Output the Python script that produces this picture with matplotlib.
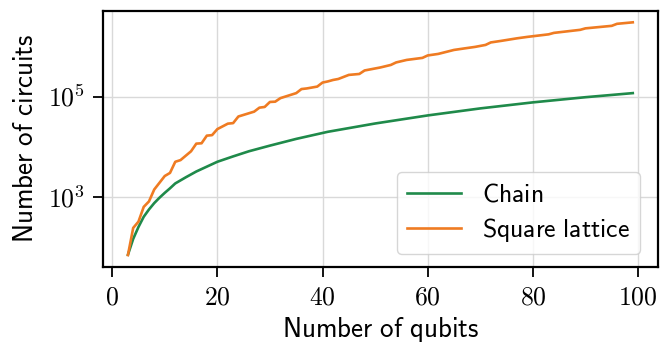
import numpy as np
import matplotlib
matplotlib.use("Agg")
import matplotlib.pyplot as plt

# number of circuits vs number of qubits
chain_qubits = [3, 4, 5, 6, 7, 8, 9, 10, 11, 12, 14, 16, 18, 20, 23, 26, 30, 35,
                41, 50, 60, 70, 80, 90, 99]
chain_circuits = [70, 145, 250, 400, 560, 750, 960, 1200, 1480, 1850, 2450, 3200,
                  4000, 5000, 6400, 8100, 10500, 14300, 19800, 29000, 42000, 58000,
                  76500, 97000, 117000]

square_qubits = [3, 4, 5, 6, 7, 8, 10, 11, 12, 13, 15, 16, 17, 18, 19, 20, 22, 23,
                 24, 27, 28, 29, 30, 31, 32, 35, 36, 37, 39, 40, 41, 42, 43, 45,
                 47, 48, 51, 53, 54, 56, 59, 60, 62, 65, 67, 69, 71, 72, 74, 77,
                 79, 83, 84, 89, 90, 95, 96, 99]
square_circuits = [69, 240, 320, 630, 810, 1400, 2600, 3000, 5000, 5400, 8100,
                   11500, 11700, 16600, 17000, 22400, 28800, 29500, 40000, 50000,
                   60000, 62000, 78000, 79000, 93000, 117000, 141000, 145000,
                   158000, 190000, 200000, 214000, 224000, 270000, 282000, 331000,
                   380000, 427000, 479000, 537000, 590000, 660000, 708000, 850000,
                   912000, 977000, 1070000, 1200000, 1290000, 1450000, 1550000,
                   1740000, 1860000, 2140000, 2290000, 2570000, 2820000, 3020000]

plt.rcParams["mathtext.fontset"] = "cm"


def sf(s):
    # computer modern sans through mathtext, keeps the spaces right
    return r"$\mathsf{" + s.replace(" ", r"\ ") + "}$"


fig = plt.figure(figsize=(6.6, 3.45), dpi=100)
ax = fig.add_axes([0.1556, 0.227, 0.8414, 0.742])

ax.plot(chain_qubits, chain_circuits, color="#1f8a4a", lw=1.9, label=sf("Chain"))
ax.plot(square_qubits, square_circuits, color="#ef7b22", lw=1.9,
        label=sf("Square lattice"))
ax.set_yscale("log")

ax.set_yticks([1e3, 1e5], [r"$10^{3}$", r"$10^{5}$"])
ax.yaxis.set_minor_locator(matplotlib.ticker.NullLocator())
xt = [0, 20, 40, 60, 80, 100]
ax.set_xticks(xt, [rf"${v}$" for v in xt])
ax.tick_params(labelsize=18.5, width=1.3, length=7, pad=6)

ax.grid(True, color="#d9d9d9", lw=1.0)
ax.set_axisbelow(True)
for s in ax.spines.values():
    s.set_linewidth(1.6)

ax.set_xlabel(sf("Number of qubits"), fontsize=19.5, labelpad=3)
ax.set_ylabel(sf("Number of circuits"), fontsize=19.5, labelpad=6)

ax.legend(loc="lower right", bbox_to_anchor=(0.991, 0.0), prop={"size": 18.5},
          handlelength=2.1, labelspacing=0.3, framealpha=0.8,
          edgecolor="#cccccc", fancybox=True)

fig.savefig("out.png", dpi=100)
